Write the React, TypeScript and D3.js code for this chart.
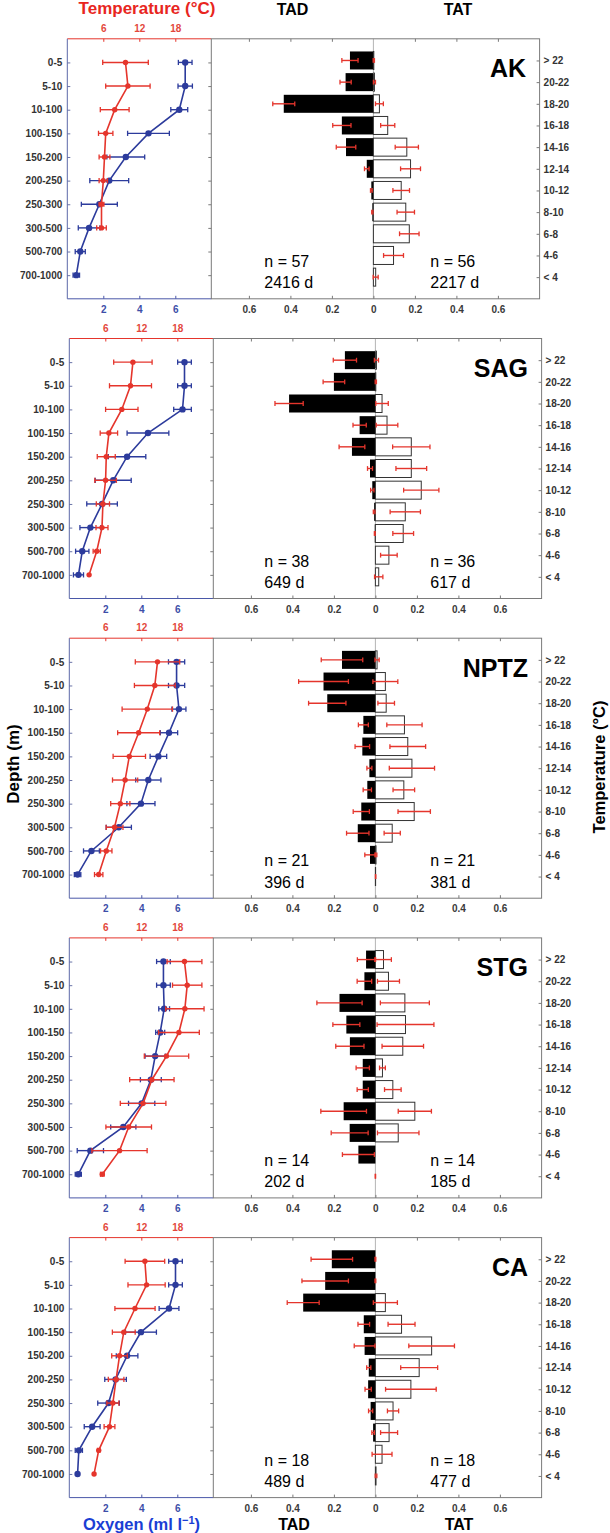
import * as d3 from 'd3';
import { useEffect, useRef } from 'react';

const W = 610;
const H = 1533;
const FONT = '"Liberation Sans", Arial, Helvetica, sans-serif';

const RED = '#e5352c';
const BLUE = '#2c3b9c';
const FRAME = '#7a7a7a';

// categories
const depthBins = ['0-5', '5-10', '10-100', '100-150', '150-200', '200-250', '250-300', '300-500', '500-700', '700-1000'];
const tempBins = ['> 22', '20-22', '18-20', '16-18', '14-16', '12-14', '10-12', '8-10', '6-8', '4-6', '< 4'];
const regions = ['AK', 'SAG', 'NPTZ', 'STG', 'CA'];

const tadN = [57, 38, 21, 14, 18];
const tadDays = [2416, 649, 396, 202, 489];
const tatN = [56, 36, 21, 14, 18];
const tatDays = [2217, 617, 381, 185, 477];

// tick labels
const tempTicks = [6, 12, 18];
const oxyTicks = [2, 4, 6];
const fracTicks = [-0.6, -0.4, -0.2, 0, 0.2, 0.4, 0.6];

// AK
const akTemp = [9.7, 10.1, 7.9, 6.4, 6.2, 6.0, 5.7, 5.7, null, null];
const akTempErr = [3.8, 3.7, 2.4, 1.2, 0.9, 0.7, 0.4, 0.8, null, null];
const akOxy = [6.55, 6.55, 6.22, 4.51, 3.25, 2.33, 1.78, 1.21, 0.72, 0.5];
const akOxyErr = [0.38, 0.4, 0.47, 1.16, 1.05, 1.08, 1.0, 0.6, 0.28, 0.18];
const akTad = [0.113, 0.134, 0.432, 0.152, 0.132, 0.032, 0.01, 0.005, 0, 0, 0];
const akTadErr = [0.039, 0.027, 0.053, 0.044, 0.047, 0.011, 0.004, 0.003, 0, 0, 0];
const akTat = [0.002, 0.005, 0.029, 0.069, 0.161, 0.179, 0.134, 0.156, 0.173, 0.097, 0.011];
const akTatErr = [0.003, 0.005, 0.019, 0.034, 0.056, 0.048, 0.04, 0.042, 0.047, 0.048, 0.012];

// SAG
const sagTemp = [10.6, 10.2, 8.75, 6.6, 6.16, 6.05, 5.6, 5.45, 4.57, 3.3];
const sagTempErr = [3.2, 3.5, 2.7, 1.45, 1.5, 1.8, 1.1, 1.0, 0.6, 0];
const sagOxy = [6.4, 6.4, 6.29, 4.37, 3.21, 2.44, 1.82, 1.17, 0.72, 0.51];
const sagOxyErr = [0.38, 0.38, 0.49, 1.16, 1.04, 1.0, 0.85, 0.58, 0.37, 0.28];
const sagTad = [0.147, 0.2, 0.416, 0.076, 0.113, 0.026, 0.015, 0.006, 0.003, 0, 0];
const sagTadErr = [0.056, 0.052, 0.068, 0.032, 0.062, 0.012, 0.008, 0.004, 0.002, 0, 0];
const sagTat = [0.005, 0.002, 0.032, 0.056, 0.173, 0.173, 0.221, 0.144, 0.134, 0.065, 0.016];
const sagTatErr = [0.01, 0.003, 0.03, 0.052, 0.09, 0.074, 0.085, 0.073, 0.05, 0.04, 0.02];

// NPTZ
const nptzTemp = [14.7, 14.25, 13.0, 11.56, 10.0, 9.3, 8.5, 7.54, 6.16, 4.9];
const nptzTempErr = [3.7, 3.4, 4.2, 3.5, 2.7, 2.1, 1.6, 1.4, 0.95, 0.7];
const nptzOxy = [5.96, 5.96, 6.09, 5.54, 4.95, 4.39, 3.98, 2.75, 1.23, 0.46];
const nptzOxyErr = [0.45, 0.45, 0.39, 0.48, 0.46, 0.7, 0.78, 0.7, 0.44, 0.18];
const nptzTad = [0.161, 0.25, 0.232, 0.058, 0.063, 0.029, 0.039, 0.068, 0.085, 0.026, 0];
const nptzTadErr = [0.1, 0.12, 0.09, 0.024, 0.035, 0.012, 0.02, 0.039, 0.054, 0.025, 0];
const nptzTat = [0.008, 0.048, 0.052, 0.14, 0.156, 0.176, 0.137, 0.187, 0.081, 0.003, 0.001];
const nptzTatErr = [0.01, 0.06, 0.04, 0.085, 0.086, 0.109, 0.052, 0.078, 0.039, 0.004, 0.001];

// STG
const stgTemp = [19.2, 19.65, 19.26, 18.27, 16.2, 13.76, 12.3, 9.9, 8.37, 5.5];
const stgTempErr = [2.9, 2.45, 3.2, 3.4, 3.7, 3.7, 3.8, 3.8, 4.6, 0.3];
const stgOxy = [5.23, 5.23, 5.27, 5.05, 4.77, 4.53, 4.02, 3.0, 1.17, 0.5];
const stgOxyErr = [0.38, 0.38, 0.3, 0.25, 0.56, 0.58, 0.73, 0.7, 0.73, 0.17];
const stgTad = [0.045, 0.053, 0.173, 0.14, 0.123, 0.061, 0.061, 0.153, 0.124, 0.082, 0];
const stgTadErr = [0.042, 0.035, 0.109, 0.065, 0.068, 0.032, 0.027, 0.11, 0.089, 0.077, 0];
const stgTat = [0.039, 0.063, 0.142, 0.145, 0.132, 0.034, 0.084, 0.19, 0.11, 0, 0];
const stgTatErr = [0.038, 0.053, 0.118, 0.137, 0.1, 0.014, 0.04, 0.08, 0.1, 0, 0.001];

// CA
const caTemp = [12.6, 12.88, 10.95, 9.08, 8.37, 7.8, 7.26, 6.7, 4.9, 4.13];
const caTempErr = [3.3, 3.1, 3.35, 1.9, 1.3, 1.3, 1.0, 0.9, 0.2, 0];
const caOxy = [5.9, 5.9, 5.54, 3.98, 3.21, 2.57, 2.18, 1.27, 0.53, 0.46];
const caOxyErr = [0.38, 0.38, 0.55, 0.86, 0.6, 0.6, 0.6, 0.44, 0.2, 0];
const caTad = [0.21, 0.242, 0.348, 0.056, 0.052, 0.032, 0.035, 0.023, 0.011, 0, 0];
const caTadErr = [0.1, 0.112, 0.077, 0.028, 0.05, 0.01, 0.015, 0.01, 0.006, 0, 0];
const caTat = [0, 0, 0.048, 0.126, 0.271, 0.211, 0.171, 0.085, 0.066, 0.032, 0.003];
const caTatErr = [0.002, 0.002, 0.058, 0.065, 0.11, 0.089, 0.122, 0.027, 0.041, 0.048, 0.004];

const panels = [
  { temp: akTemp, tempErr: akTempErr, oxy: akOxy, oxyErr: akOxyErr, tad: akTad, tadErr: akTadErr, tat: akTat, tatErr: akTatErr },
  { temp: sagTemp, tempErr: sagTempErr, oxy: sagOxy, oxyErr: sagOxyErr, tad: sagTad, tadErr: sagTadErr, tat: sagTat, tatErr: sagTatErr },
  { temp: nptzTemp, tempErr: nptzTempErr, oxy: nptzOxy, oxyErr: nptzOxyErr, tad: nptzTad, tadErr: nptzTadErr, tat: nptzTat, tatErr: nptzTatErr },
  { temp: stgTemp, tempErr: stgTempErr, oxy: stgOxy, oxyErr: stgOxyErr, tad: stgTad, tadErr: stgTadErr, tat: stgTat, tatErr: stgTatErr },
  { temp: caTemp, tempErr: caTempErr, oxy: caOxy, oxyErr: caOxyErr, tad: caTad, tadErr: caTadErr, tat: caTat, tatErr: caTatErr },
];

type G = d3.Selection<SVGGElement, unknown, null, undefined>;

function errBar(g: G, x0: number, x1: number, y: number, color: string, cap = 2.6) {
  g.append('line').attr('x1', x0).attr('x2', x1).attr('y1', y).attr('y2', y)
    .attr('stroke', color).attr('stroke-width', 1.4);
  [x0, x1].forEach(x => {
    g.append('line').attr('x1', x).attr('x2', x).attr('y1', y - cap).attr('y2', y + cap)
      .attr('stroke', color).attr('stroke-width', 1.3);
  });
}

function styleAxis(g: G, color: string, showText = true) {
  g.attr('font-family', FONT).attr('font-size', 10).attr('font-weight', 'bold');
  g.selectAll('.domain').remove();
  g.selectAll('.tick line').attr('stroke', color).attr('stroke-width', 1);
  if (!showText) g.selectAll('.tick text').remove();
}

export default function App() {
  const ref = useRef<SVGSVGElement>(null);

  useEffect(() => {
    if (!ref.current) return;
    const svg = d3.select(ref.current);
    svg.selectAll('*').remove();
    svg.append('rect').attr('width', W).attr('height', H).attr('fill', '#fff');

    panels.forEach((p, i) => {
      const top = 38.8 + i * 299.7;
      const h = 260;
      const bottom = top + h;
      const dx = i === 0 ? -2 : 0;
      const xL0 = 69.3 + dx;
      const xL1 = 213.3 + dx;
      const xR1 = 541.6 + dx;
      const zero = 375.4 + dx;

      const tX = d3.scaleLinear().domain([0, 24]).range([xL0, xL1]);
      const oX = d3.scaleLinear().domain([0, 8]).range([xL0, xL1]);
      const dY = d3.scaleLinear().domain([0, 11]).range([top, bottom]);
      const bY = d3.scaleLinear().domain([0, 12]).range([top, bottom]);
      const fX = d3.scaleLinear().domain([-0.8, 0.8]).range([zero - 166, zero + 166]);

      const g = svg.append('g') as unknown as G;

      // ---------- left panel: profiles ----------
      const topAx = g.append('g').attr('transform', `translate(0,${top})`)
        .call(d3.axisTop(tX).tickValues(tempTicks).tickSize(-3).tickPadding(7));
      styleAxis(topAx, RED);
      topAx.selectAll('.tick text').attr('fill', '#e3473c');

      const botAx = g.append('g').attr('transform', `translate(0,${bottom})`)
        .call(d3.axisBottom(oX).tickValues(oxyTicks).tickSize(-3).tickPadding(7));
      styleAxis(botAx, '#4a58a8');
      botAx.selectAll('.tick text').attr('fill', '#3d4ea8');

      const depthAx = g.append('g').attr('transform', `translate(${xL0},0)`)
        .call(d3.axisLeft(dY).tickValues(d3.range(1, 11)).tickSize(-3).tickPadding(5)
          .tickFormat((d: any) => depthBins[d - 1]));
      styleAxis(depthAx, '#6a74a8');
      depthAx.selectAll('.tick text').attr('fill', '#333');

      const depthAxR = g.append('g').attr('transform', `translate(${xL1},0)`)
        .call(d3.axisRight(dY).tickValues(d3.range(1, 11)).tickSize(-3));
      styleAxis(depthAxR, FRAME, false);

      // frame
      g.append('line').attr('x1', xL0).attr('x2', xL1).attr('y1', top).attr('y2', top).attr('stroke', RED).attr('stroke-width', 1);
      g.append('line').attr('x1', xL0).attr('x2', xL1).attr('y1', bottom).attr('y2', bottom).attr('stroke', '#4a58a8').attr('stroke-width', 1);
      g.append('line').attr('x1', xL0).attr('x2', xL0).attr('y1', top).attr('y2', bottom).attr('stroke', '#5c68a8').attr('stroke-width', 1);

      // oxygen profile
      const oxyLine = d3.line<number | null>()
        .defined(d => d != null)
        .x(d => oX(d as number))
        .y((_, j) => dY(j + 1));
      g.append('path').datum(p.oxy).attr('d', oxyLine).attr('fill', 'none')
        .attr('stroke', BLUE).attr('stroke-width', 1.6);
      p.oxy.forEach((v, j) => {
        const e = p.oxyErr[j];
        if (e) errBar(g, oX(v - e), oX(v + e), dY(j + 1), BLUE);
        g.append('circle').attr('cx', oX(v)).attr('cy', dY(j + 1)).attr('r', 3.2).attr('fill', BLUE);
      });

      // temperature profile
      const tempLine = d3.line<number | null>()
        .defined(d => d != null)
        .x(d => tX(d as number))
        .y((_, j) => dY(j + 1));
      g.append('path').datum(p.temp).attr('d', tempLine).attr('fill', 'none')
        .attr('stroke', RED).attr('stroke-width', 1.6);
      p.temp.forEach((v, j) => {
        if (v == null) return;
        const e = p.tempErr[j];
        if (e) errBar(g, tX(v - e), tX(v + e), dY(j + 1), RED);
        g.append('circle').attr('cx', tX(v)).attr('cy', dY(j + 1)).attr('r', 2.7).attr('fill', RED);
      });

      // ---------- right panel: TAD / TAT ----------
      g.append('line').attr('x1', zero).attr('x2', zero).attr('y1', top).attr('y2', bottom)
        .attr('stroke', '#b5b5b5').attr('stroke-width', 1);

      const fTop = g.append('g').attr('transform', `translate(0,${top})`)
        .call(d3.axisTop(fX).tickValues(fracTicks.filter(d => d !== 0)).tickSize(-3));
      styleAxis(fTop, FRAME, false);
      const fBot = g.append('g').attr('transform', `translate(0,${bottom})`)
        .call(d3.axisBottom(fX).tickValues(fracTicks).tickSize(-3).tickPadding(7)
          .tickFormat((d: any) => d3.format('~g')(Math.abs(d))));
      styleAxis(fBot, FRAME);
      fBot.selectAll('.tick text').attr('fill', '#3a3a3a');

      const catAx = g.append('g').attr('transform', `translate(${xR1},0)`)
        .call(d3.axisRight(bY).tickValues(d3.range(1, 12)).tickSize(-3).tickPadding(4)
          .tickFormat((d: any) => tempBins[d - 1]));
      styleAxis(catAx, FRAME);
      catAx.selectAll('.tick text').attr('fill', '#333');

      const bh = 18;
      p.tad.forEach((v, j) => {
        const y = bY(j + 1);
        if (v > 0) {
          g.append('rect').attr('x', fX(-v)).attr('y', y - bh / 2)
            .attr('width', fX(0) - fX(-v)).attr('height', bh).attr('fill', '#000');
        }
      });
      p.tat.forEach((v, j) => {
        const y = bY(j + 1);
        if (v > 0) {
          g.append('rect').attr('x', fX(0)).attr('y', y - bh / 2)
            .attr('width', fX(v) - fX(0)).attr('height', bh)
            .attr('fill', '#fff').attr('stroke', '#333').attr('stroke-width', 1);
        }
      });
      p.tad.forEach((v, j) => {
        const e = p.tadErr[j];
        if (e) errBar(g, fX(-v - e), fX(-v + e), bY(j + 1), RED, 2.4);
      });
      p.tat.forEach((v, j) => {
        const e = p.tatErr[j];
        if (e) errBar(g, fX(v - e), fX(v + e), bY(j + 1), RED, 2.4);
      });

      g.append('rect').attr('x', xL1).attr('y', top).attr('width', xR1 - xL1).attr('height', h)
        .attr('fill', 'none').attr('stroke', FRAME).attr('stroke-width', 1);

      // labels
      g.append('text').attr('x', 528 + dx).attr('y', top + 38.5).attr('text-anchor', 'end')
        .attr('font-family', FONT).attr('font-weight', 'bold').attr('font-size', 25).attr('fill', '#000')
        .text(regions[i]);

      const info = [
        { x: 264.3, n: tadN[i], d: tadDays[i] },
        { x: 430.3, n: tatN[i], d: tatDays[i] },
      ];
      info.forEach(t => {
        g.append('text').attr('x', t.x).attr('y', top + 228).attr('font-family', FONT)
          .attr('font-size', 16).attr('fill', '#000').text(`n = ${t.n}`);
        g.append('text').attr('x', t.x).attr('y', top + 249.5).attr('font-family', FONT)
          .attr('font-size', 16).attr('fill', '#000').text(`${t.d} d`);
      });
    });

    // titles
    const title = (x: number, y: number, txt: string, size: number, color: string, rot = 0) =>
      svg.append('text').attr('transform', `translate(${x},${y}) rotate(${rot})`)
        .attr('text-anchor', 'middle').attr('font-family', FONT).attr('font-weight', 'bold')
        .attr('font-size', size).attr('fill', color).text(txt);

    title(147, 14, 'Temperature (°C)', 17, '#e8261e');
    title(292.5, 15, 'TAD', 16, '#000');
    title(458, 15, 'TAT', 16, '#000');
    title(294, 1530, 'TAD', 16, '#000');
    title(459, 1530, 'TAT', 16, '#000');
    title(19, 764, 'Depth (m)', 17, '#000', -90);
    title(605, 767, 'Temperature (°C)', 16.5, '#000', -90);

    const ox = svg.append('text').attr('x', 141.5).attr('y', 1530).attr('text-anchor', 'middle')
      .attr('font-family', FONT).attr('font-weight', 'bold').attr('font-size', 16.5).attr('fill', '#1a3ed4');
    ox.append('tspan').text('Oxygen (ml l');
    ox.append('tspan').attr('dy', -6).attr('font-size', 11).text('\u22121');
    ox.append('tspan').attr('dy', 6).text(')');
  }, []);

  return (
    <svg ref={ref} width={W} height={H}
      style={{ position: 'absolute', left: 0, top: 0, display: 'block' }} />
  );
}
